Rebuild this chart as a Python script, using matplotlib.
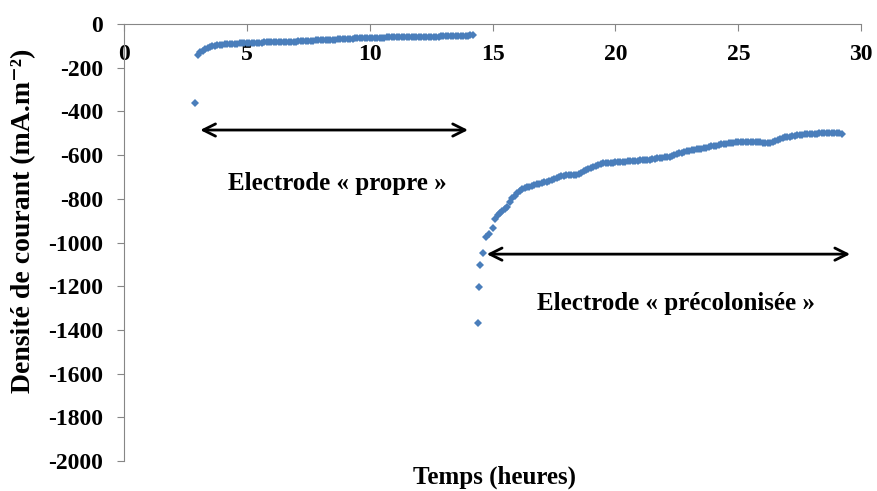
import numpy as np
import matplotlib
matplotlib.use("Agg")
import matplotlib.pyplot as plt

plt.rcParams['font.family'] = ['Liberation Serif', 'DejaVu Serif']
plt.rcParams['font.weight'] = 'bold'
plt.rcParams['axes.unicode_minus'] = False

# electrode "propre" : first run
t_first = [2.9]
j_first = [-363]
t_propre = [3.0, 3.1, 3.2, 3.3, 3.4, 3.5, 3.6, 3.7, 3.8, 3.9,
            4.0, 4.1, 4.2, 4.3, 4.4, 4.5, 4.6, 4.7, 4.8, 4.9,
            5.0, 5.1, 5.2, 5.3, 5.4, 5.5, 5.6, 5.7, 5.8, 5.9,
            6.0, 6.1, 6.2, 6.3, 6.4, 6.5, 6.6, 6.7, 6.8, 6.9,
            7.0, 7.1, 7.2, 7.3, 7.4, 7.5, 7.6, 7.7, 7.8, 7.9,
            8.0, 8.1, 8.2, 8.3, 8.4, 8.5, 8.6, 8.7, 8.8, 8.9,
            9.0, 9.1, 9.2, 9.3, 9.4, 9.5, 9.6, 9.7, 9.8, 9.9,
            10.0, 10.1, 10.2, 10.3, 10.4, 10.5, 10.6, 10.7, 10.8, 10.9,
            11.0, 11.1, 11.2, 11.3, 11.4, 11.5, 11.6, 11.7, 11.8, 11.9,
            12.0, 12.1, 12.2, 12.3, 12.4, 12.5, 12.6, 12.7, 12.8, 12.9,
            13.0, 13.1, 13.2, 13.3, 13.4, 13.5, 13.6, 13.7, 13.8, 13.9,
            14.0, 14.1, 14.2]
j_propre = [-140, -130, -122, -115, -110, -106, -102, -99, -97, -95,
            -94, -93, -92, -91, -90, -90, -89, -88, -88, -87,
            -87, -86, -86, -85, -86, -85, -85, -84, -84, -83,
            -83, -83, -82, -82, -82, -81, -81, -81, -80, -80,
            -80, -79, -79, -78, -78, -77, -76, -76, -75, -75,
            -74, -74, -73, -73, -72, -71, -71, -70, -70, -69,
            -68, -68, -67, -67, -66, -66, -66, -65, -65, -64,
            -64, -63, -63, -63, -62, -62, -62, -61, -61, -61,
            -61, -60, -60, -60, -60, -59, -59, -59, -59, -58,
            -58, -58, -58, -58, -58, -57, -57, -57, -57, -56,
            -56, -56, -56, -55, -55, -55, -54, -54, -54, -53,
            -53, -52, -51]

# electrode "precolonisee" : second run
t_preco = [14.4, 14.45, 14.5, 14.6, 14.75, 14.85, 15.0,
           15.1, 15.2, 15.3, 15.4, 15.5, 15.6, 15.7, 15.8, 15.9,
           16.0, 16.1, 16.2, 16.3, 16.4, 16.5, 16.6, 16.7, 16.8, 16.9,
           17.0, 17.1, 17.2, 17.3, 17.4, 17.5, 17.6, 17.7, 17.8, 17.9,
           18.0, 18.1, 18.2, 18.3, 18.4, 18.5, 18.6, 18.7, 18.8, 18.9,
           19.0, 19.1, 19.2, 19.3, 19.4, 19.5, 19.6, 19.7, 19.8, 19.9,
           20.0, 20.1, 20.2, 20.3, 20.4, 20.5, 20.6, 20.7, 20.8, 20.9,
           21.0, 21.1, 21.2, 21.3, 21.4, 21.5, 21.6, 21.7, 21.8, 21.9,
           22.0, 22.1, 22.2, 22.3, 22.4, 22.5, 22.6, 22.7, 22.8, 22.9,
           23.0, 23.1, 23.2, 23.3, 23.4, 23.5, 23.6, 23.7, 23.8, 23.9,
           24.0, 24.1, 24.2, 24.3, 24.4, 24.5, 24.6, 24.7, 24.8, 24.9,
           25.0, 25.1, 25.2, 25.3, 25.4, 25.5, 25.6, 25.7, 25.8, 25.9,
           26.0, 26.1, 26.2, 26.3, 26.4, 26.5, 26.6, 26.7, 26.8, 26.9,
           27.0, 27.1, 27.2, 27.3, 27.4, 27.5, 27.6, 27.7, 27.8, 27.9,
           28.0, 28.1, 28.2, 28.3, 28.4, 28.5, 28.6, 28.7, 28.8, 28.9,
           29.0, 29.1, 29.2]
j_preco = [-1370, -1205, -1103, -1050, -975, -960, -935,
           -890, -875, -865, -855, -845, -835, -815, -798, -785,
           -772, -764, -757, -752, -748, -744, -740, -736, -733, -730,
           -727, -725, -722, -718, -715, -710, -705, -700, -695, -694,
           -693, -692, -692, -691, -690, -686, -680, -674, -668, -663,
           -658, -653, -648, -644, -640, -638, -637, -636, -635, -634,
           -633, -633, -632, -631, -630, -629, -628, -627, -626, -625,
           -624, -623, -622, -621, -620, -619, -617, -615, -613, -612,
           -610, -609, -607, -604, -600, -596, -592, -588, -585, -582,
           -580, -578, -576, -574, -572, -570, -567, -565, -562, -560,
           -558, -556, -553, -550, -548, -547, -546, -544, -543, -542,
           -542, -541, -541, -540, -540, -540, -540, -540, -541, -542,
           -544, -545, -545, -543, -540, -535, -530, -526, -522, -519,
           -517, -515, -513, -511, -510, -508, -507, -505, -504, -503,
           -502, -501, -501, -500, -500, -499, -499, -499, -499, -500,
           -500, -500, -501]

blue = '#4A7EBB'
grey = '#868686'

fig = plt.figure(figsize=(8.77, 4.91), dpi=100)
ax = fig.add_axes([0.1414, 0.061, 0.8406, 0.890])

for t, j in [(t_first, j_first), (t_propre, j_propre), (t_preco, j_preco)]:
    ax.plot(t, j, linestyle='none', marker='D', markersize=3.9,
            color=blue, markeredgewidth=0)

ax.set_xlim(0, 30)
ax.set_ylim(-2000, 0)
ax.set_xticks(np.arange(0, 31, 5))
ax.set_yticks(np.arange(-2000, 1, 200))

ax.spines['top'].set_visible(False)
ax.spines['right'].set_visible(False)
ax.spines['bottom'].set_position(('data', 0))
ax.spines['bottom'].set_color(grey)
ax.spines['left'].set_color(grey)
ax.tick_params(axis='both', color=grey, length=5, labelsize=17)
ax.tick_params(axis='x', pad=9)
ax.tick_params(axis='y', pad=10)

# arrows and labels
ax.annotate('', xy=(3.1, -485), xytext=(14.0, -485),
            arrowprops=dict(arrowstyle='<->', lw=2, color='black',
                            mutation_scale=22, shrinkA=0, shrinkB=0))
ax.annotate('', xy=(14.76, -1053), xytext=(29.55, -1053),
            arrowprops=dict(arrowstyle='<->', lw=2, color='black',
                            mutation_scale=22, shrinkA=0, shrinkB=0))
ax.text(8.66, -732, 'Electrode « propre »', ha='center', va='center',
        fontsize=18)
ax.text(22.45, -1277, 'Electrode « précolonisée »', ha='center', va='center',
        fontsize=18)

fig.text(0.564, 0.028, 'Temps (heures)', ha='center', va='center', fontsize=18)
fig.text(0.027, 0.55, 'Densité de courant (mA.m⁻²)', ha='center',
         va='center', rotation=90, fontsize=20)

fig.savefig('out.png', dpi=100)
